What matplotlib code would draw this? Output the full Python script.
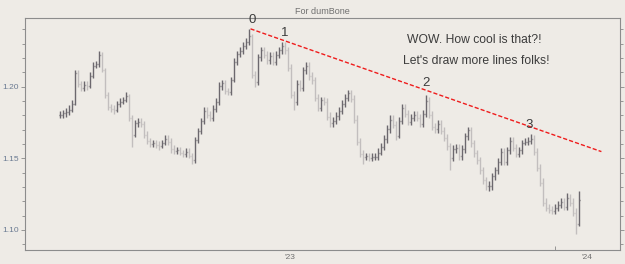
import matplotlib
matplotlib.use("Agg")
import matplotlib.pyplot as plt
import numpy as np

plt.rcParams['font.family'] = ['Liberation Sans', 'DejaVu Sans']

# bar closes (one value per bar)
closes = [
    1.1805, 1.1819, 1.1826, 1.1840, 1.1882, 1.2098, 1.2021, 1.1993, 1.2014, 1.2007,
    1.2077, 1.2146, 1.2160, 1.2223, 1.2119, 1.1944, 1.1861, 1.1847, 1.1840, 1.1882,
    1.1896, 1.1909, 1.1937, 1.1784, 1.1665, 1.1749, 1.1756, 1.1742, 1.1665, 1.1624,
    1.1603, 1.1610, 1.1596, 1.1589, 1.1610, 1.1638, 1.1617, 1.1568, 1.1554, 1.1561,
    1.1540, 1.1533, 1.1547, 1.1519, 1.1491, 1.1630, 1.1693, 1.1763, 1.1833, 1.1805,
    1.1784, 1.1847, 1.1896, 1.2007, 1.2028, 1.1972, 1.1965, 1.2049, 1.2174, 1.2230,
    1.2251, 1.2286, 1.2314, 1.2355, 1.2084, 1.2035, 1.2209, 1.2258, 1.2223, 1.2188,
    1.2216, 1.2174, 1.2223, 1.2258, 1.2286, 1.2258, 1.2132, 1.1944, 1.1896, 1.2021,
    1.1993, 1.2119, 1.2146, 1.2077, 1.2049, 1.1923, 1.1854, 1.1909, 1.1896, 1.1791,
    1.1749, 1.1763, 1.1798, 1.1833, 1.1882, 1.1923, 1.1958, 1.1916, 1.1770, 1.1617,
    1.1533, 1.1512, 1.1519, 1.1505, 1.1512, 1.1512, 1.1540, 1.1582, 1.1638, 1.1707,
    1.1770, 1.1735, 1.1658, 1.1763, 1.1854, 1.1812, 1.1756, 1.1784, 1.1805, 1.1784,
    1.1742, 1.1812, 1.1902, 1.1805, 1.1721, 1.1707, 1.1742, 1.1693, 1.1644, 1.1589,
    1.1505, 1.1568, 1.1575, 1.1519, 1.1568, 1.1658, 1.1700, 1.1610, 1.1540, 1.1491,
    1.1421, 1.1352, 1.1310, 1.1310, 1.1380, 1.1421, 1.1477, 1.1547, 1.1477, 1.1561,
    1.1624, 1.1575, 1.1533, 1.1561, 1.1610, 1.1617, 1.1624, 1.1638, 1.1547, 1.1435,
    1.1331, 1.1191, 1.1156, 1.1142, 1.1135, 1.1156, 1.1177, 1.1198, 1.1163, 1.1226,
    1.1191, 1.1121, 1.1045, 1.1212,
]

highs = [
    1.183, 1.184, 1.185, 1.187, 1.191, 1.212, 1.212, 1.204, 1.204, 1.204,
    1.210, 1.217, 1.218, 1.225, 1.224, 1.213, 1.196, 1.188, 1.187, 1.190,
    1.192, 1.193, 1.196, 1.195, 1.180, 1.177, 1.178, 1.178, 1.176, 1.169,
    1.164, 1.163, 1.163, 1.162, 1.163, 1.166, 1.166, 1.164, 1.159, 1.158,
    1.158, 1.156, 1.157, 1.157, 1.154, 1.165, 1.171, 1.178, 1.186, 1.186,
    1.183, 1.187, 1.192, 1.203, 1.205, 1.205, 1.199, 1.207, 1.220, 1.225,
    1.228, 1.231, 1.234, 1.240, 1.237, 1.211, 1.223, 1.228, 1.228, 1.225,
    1.224, 1.224, 1.225, 1.228, 1.231, 1.231, 1.228, 1.216, 1.197, 1.205,
    1.205, 1.214, 1.217, 1.217, 1.210, 1.207, 1.195, 1.193, 1.193, 1.192,
    1.182, 1.179, 1.182, 1.186, 1.191, 1.195, 1.198, 1.198, 1.194, 1.180,
    1.164, 1.156, 1.154, 1.154, 1.154, 1.154, 1.157, 1.161, 1.166, 1.173,
    1.180, 1.180, 1.176, 1.179, 1.188, 1.188, 1.184, 1.181, 1.183, 1.183,
    1.181, 1.184, 1.194, 1.193, 1.183, 1.175, 1.177, 1.177, 1.172, 1.167,
    1.161, 1.159, 1.160, 1.160, 1.159, 1.168, 1.172, 1.172, 1.163, 1.156,
    1.151, 1.144, 1.137, 1.134, 1.140, 1.144, 1.150, 1.157, 1.157, 1.158,
    1.165, 1.165, 1.160, 1.158, 1.163, 1.164, 1.165, 1.167, 1.166, 1.157,
    1.146, 1.136, 1.122, 1.118, 1.117, 1.118, 1.120, 1.122, 1.122, 1.126,
    1.125, 1.122, 1.115, 1.127,
]

lows = [
    1.178, 1.178, 1.179, 1.180, 1.182, 1.187, 1.200, 1.197, 1.197, 1.198,
    1.199, 1.206, 1.213, 1.214, 1.210, 1.192, 1.184, 1.182, 1.181, 1.182,
    1.186, 1.188, 1.189, 1.176, 1.158, 1.165, 1.172, 1.172, 1.164, 1.160,
    1.158, 1.158, 1.157, 1.156, 1.157, 1.159, 1.159, 1.154, 1.153, 1.153,
    1.152, 1.151, 1.151, 1.150, 1.146, 1.147, 1.161, 1.167, 1.174, 1.178,
    1.176, 1.176, 1.182, 1.187, 1.198, 1.195, 1.194, 1.194, 1.203, 1.215,
    1.221, 1.223, 1.226, 1.229, 1.206, 1.200, 1.201, 1.218, 1.220, 1.216,
    1.216, 1.215, 1.215, 1.220, 1.223, 1.223, 1.211, 1.192, 1.184, 1.187,
    1.197, 1.197, 1.209, 1.205, 1.202, 1.190, 1.183, 1.183, 1.187, 1.177,
    1.172, 1.172, 1.174, 1.177, 1.181, 1.186, 1.190, 1.189, 1.175, 1.159,
    1.151, 1.146, 1.149, 1.148, 1.148, 1.149, 1.149, 1.152, 1.156, 1.161,
    1.168, 1.171, 1.163, 1.164, 1.174, 1.179, 1.173, 1.173, 1.176, 1.176,
    1.172, 1.172, 1.179, 1.178, 1.170, 1.168, 1.168, 1.167, 1.162, 1.156,
    1.142, 1.148, 1.154, 1.149, 1.149, 1.154, 1.163, 1.158, 1.151, 1.146,
    1.139, 1.132, 1.128, 1.127, 1.128, 1.135, 1.139, 1.145, 1.145, 1.145,
    1.153, 1.155, 1.151, 1.151, 1.153, 1.159, 1.159, 1.160, 1.152, 1.141,
    1.131, 1.117, 1.113, 1.112, 1.111, 1.111, 1.113, 1.115, 1.114, 1.114,
    1.117, 1.110, 1.0975, 1.103,
]

first_open = 1.1800

# trend line and the numbered touch points (bar index, price)
trend_x = [63.5, 180.5]
trend_y = [1.2404, 1.1547]
pt_labels = ["0", "1", "2", "3"]
pt_x = [64.0, 75.0, 122.0, 156.5]
pt_y = [1.2468, 1.2372, 1.2025, 1.1733]

year_labels = ["'23", "'24"]
year_pos = [76.7, 175.8]

y_major = [1.10, 1.15, 1.20]

bg = '#eeebe6'
up_col = '#6c686e'
dn_col = '#c2bebe'

fig = plt.figure(figsize=(6.25, 2.64), dpi=100, facecolor=bg)
ax = fig.add_axes([0.04, 0.053, 0.952, 0.879], facecolor=bg)

x = np.arange(len(closes))
opens = [first_open] + closes[:-1]
cols = [up_col if c >= o else dn_col for o, c in zip(opens, closes)]

w = 0.45
ax.vlines(x, lows, highs, colors=cols, linewidth=1.0)
ax.hlines(opens, x - w, x, colors=cols, linewidth=1.0)
ax.hlines(closes, x, x + w, colors=cols, linewidth=1.0)

ax.plot(trend_x, trend_y, color='#ee1c1c', linestyle=(0, (3, 1.5)), linewidth=1.0)

for t, px, py in zip(pt_labels, pt_x, pt_y):
    ax.text(px, py, t, ha='center', va='center', fontsize=9.5, color='#3c3c3c')

ax.text(0.755, 0.905, "WOW. How cool is that?!", transform=ax.transAxes,
        ha='center', va='center', fontsize=8.7, color='#3c3c3c')
ax.text(0.758, 0.815, "Let's draw more lines folks!", transform=ax.transAxes,
        ha='center', va='center', fontsize=8.7, color='#3c3c3c')

fig.text(0.516, 0.955, "For dumBone", ha='center', va='center',
         fontsize=6.5, color='#707070')

ax.set_xlim(-11.7, 186.7)
ax.set_ylim(1.086, 1.248)

ax.set_yticks(y_major)
ax.set_yticklabels(["%.2f" % v for v in y_major])
ax.set_yticks(np.arange(1.09, 1.248, 0.01), minor=True)
ax.tick_params(axis='y', which='major', direction='out', length=3, width=0.6,
               color='#888888', labelsize=6, labelcolor='#6a7a92', pad=1.5,
               right=True)
ax.tick_params(axis='y', which='minor', direction='out', length=2, width=0.6,
               color='#888888', right=True)

ax.set_xticks(year_pos)
ax.set_xticklabels(year_labels)
ax.set_xticks([165.0], minor=True)
ax.tick_params(axis='x', which='major', length=0, labelsize=6,
               labelcolor='#707070', pad=3)
ax.tick_params(axis='x', which='minor', direction='in', length=3, width=0.6,
               color='#888888')

for s in ax.spines.values():
    s.set_color('#8c8c8c')
    s.set_linewidth(0.8)

fig.savefig('out.png', dpi=100, facecolor=bg)
